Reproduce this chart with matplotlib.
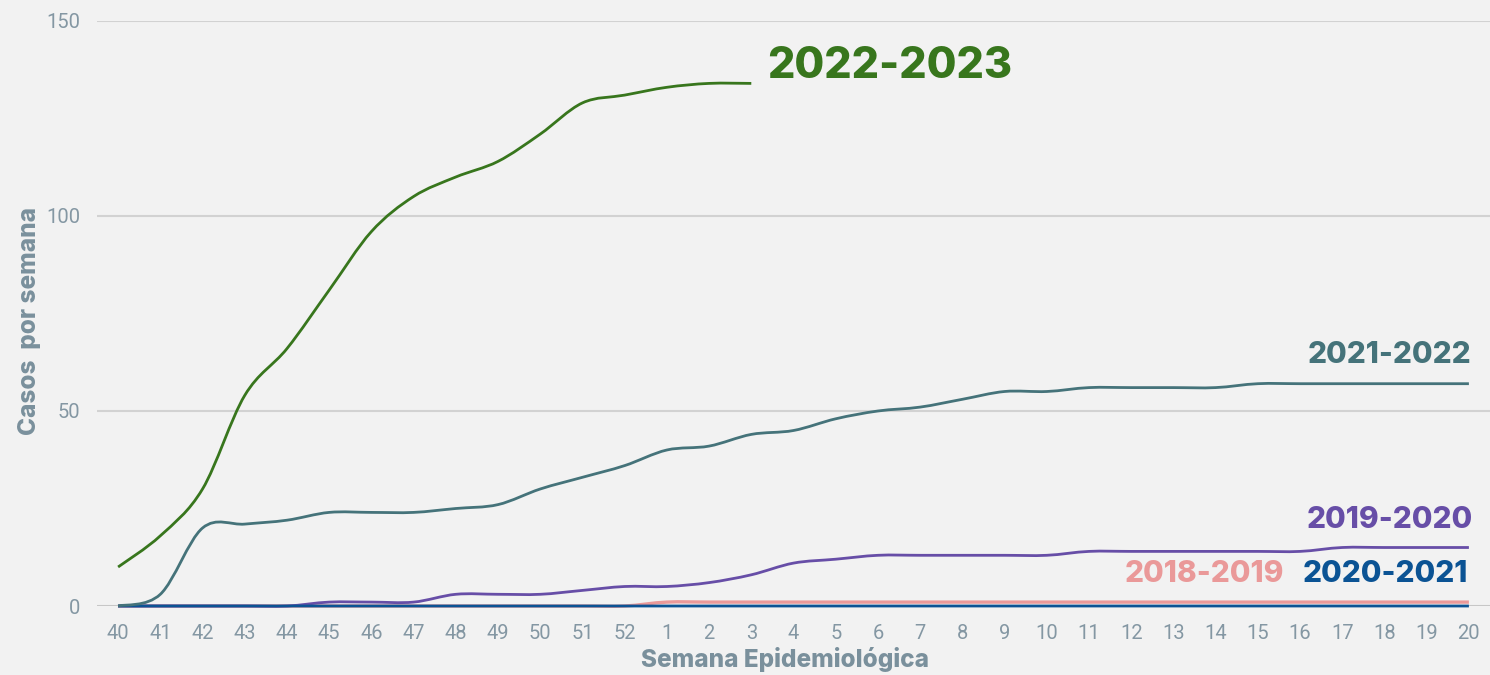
import matplotlib
matplotlib.use("Agg")
import matplotlib.pyplot as plt
from matplotlib.path import Path
from matplotlib.patches import PathPatch
import numpy as np

weeks = ["40", "41", "42", "43", "44", "45", "46", "47", "48", "49", "50", "51", "52",
         "1", "2", "3", "4", "5", "6", "7", "8", "9", "10", "11", "12", "13", "14",
         "15", "16", "17", "18", "19", "20"]

s2022_2023 = [10, 18, 30, 54, 66, 81, 96, 105, 110, 114, 121, 129, 131, 133, 134, 134]
s2021_2022 = [0, 3, 20, 21, 22, 24, 24, 24, 25, 26, 30, 33, 36, 40, 41, 44, 45, 48, 50,
              51, 53, 55, 55, 56, 56, 56, 56, 57, 57, 57, 57, 57, 57]
s2019_2020 = [0, 0, 0, 0, 0, 1, 1, 1, 3, 3, 3, 4, 5, 5, 6, 8, 11, 12, 13, 13, 13, 13,
              13, 14, 14, 14, 14, 14, 14, 15, 15, 15, 15]
s2018_2019 = [0, 0, 0, 0, 0, 0, 0, 0, 0, 0, 0, 0, 0, 1, 1, 1, 1, 1, 1, 1, 1, 1, 1, 1,
              1, 1, 1, 1, 1, 1, 1, 1, 1]
s2020_2021 = [0] * 33

series_names = ["2018-2019", "2019-2020", "2020-2021", "2021-2022", "2022-2023"]
colors = {"2018-2019": "#ea9999", "2019-2020": "#674ea7", "2020-2021": "#0b5394",
          "2021-2022": "#45737a", "2022-2023": "#38761d"}
data = {"2018-2019": s2018_2019, "2019-2020": s2019_2020, "2020-2021": s2020_2021,
        "2021-2022": s2021_2022, "2022-2023": s2022_2023}

BG = "#f2f2f2"
TICK = "#8497a3"
TITLE = "#7a909c"

fig = plt.figure(figsize=(14.9, 6.75), dpi=100, facecolor=BG)
ax = fig.add_axes([97 / 1490, 1 - 606 / 675, 1 - 97 / 1490, (606 - 21) / 675])
ax.set_facecolor(BG)


def smooth_path(xs, ys):
    xs = np.asarray(xs, float)
    ys = np.asarray(ys, float)
    n = len(xs)
    verts = [(xs[0], ys[0])]
    codes = [Path.MOVETO]
    for i in range(n - 1):
        x0, y0 = (xs[i - 1], ys[i - 1]) if i > 0 else (xs[i], ys[i])
        x1, y1 = xs[i], ys[i]
        x2, y2 = xs[i + 1], ys[i + 1]
        x3, y3 = (xs[i + 2], ys[i + 2]) if i + 2 < n else (xs[i + 1], ys[i + 1])
        c1 = (x1 + (x2 - x0) / 6, y1 + (y2 - y0) / 6)
        c2 = (x2 - (x3 - x1) / 6, y2 - (y3 - y1) / 6)
        verts += [c1, c2, (x2, y2)]
        codes += [Path.CURVE4] * 3
    return Path(verts, codes)


for name in series_names:
    vals = data[name]
    xs = np.arange(len(vals))
    p = smooth_path(xs, vals)
    lw = 2.4 if name == "2018-2019" else 2.0
    patch = PathPatch(p, facecolor="none", edgecolor=colors[name], lw=lw,
                      clip_on=False, zorder=3, capstyle="butt")
    ax.add_patch(patch)

ax.set_xlim(-0.5, 32.5)
ax.set_ylim(0, 150)
ax.set_yticks([0, 50, 100, 150])
ax.set_xticks(np.arange(len(weeks)))
ax.set_xticklabels(weeks)
ax.grid(axis="y", color="#d2d2d2", lw=1.5, zorder=0)
ax.grid(axis="x", visible=False)
ax.set_axisbelow(True)
for sp in ax.spines.values():
    sp.set_visible(False)
ax.axhline(0, color="#9e9e9e", lw=1.0, zorder=1)
ax.tick_params(axis="both", length=0, labelsize=14.5, labelcolor=TICK)
ax.tick_params(axis="x", pad=13)
ax.tick_params(axis="y", pad=12)
for lab in ax.get_xticklabels() + ax.get_yticklabels():
    lab.set_fontfamily("Roboto")

fig.text(30 / 1490, 1 - 321 / 675, "Casos  por semana", rotation=90, ha="center",
         va="center", fontsize=17.5, fontweight="heavy", color=TITLE, family="Inter")
fig.text(785 / 1490, 1 - 660 / 675, "Semana Epidemiológica", ha="center", va="center",
         fontsize=17.5, fontweight="heavy", color=TITLE, family="Inter")

label_font = dict(fontweight="heavy", family="Inter")
fig.text(767 / 1490, 1 - 66 / 675, "2022-2023", ha="left", va="center", fontsize=31,
         color=colors["2022-2023"], **label_font)
fig.text(1471 / 1490, 1 - 355 / 675, "2021-2022", ha="right", va="center", fontsize=21.5,
         color=colors["2021-2022"], **label_font)
fig.text(1473 / 1490, 1 - 520 / 675, "2019-2020", ha="right", va="center", fontsize=21.5,
         color=colors["2019-2020"], **label_font)
fig.text(1284 / 1490, 1 - 574 / 675, "2018-2019", ha="right", va="center", fontsize=21.5,
         color=colors["2018-2019"], **label_font)
fig.text(1468 / 1490, 1 - 574 / 675, "2020-2021", ha="right", va="center", fontsize=21.5,
         color=colors["2020-2021"], **label_font)

fig.savefig("out.png", dpi=100, facecolor=BG)
